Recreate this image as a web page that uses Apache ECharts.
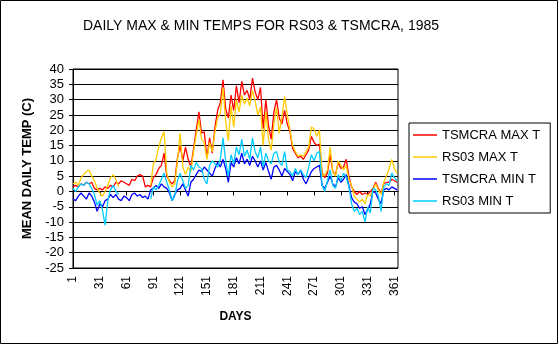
<!DOCTYPE html>
<html><head><meta charset="utf-8">
<script src="https://cdn.jsdelivr.net/npm/echarts@6/dist/echarts.min.js"></script>
<style>html,body{margin:0;padding:0;background:#fff}#c{width:559px;height:345px}</style>
</head><body><div id="c"></div>
<script>
const titleText = 'DAILY MAX & MIN TEMPS FOR RS03 & TSMCRA, 1985';
const seriesNames = ['TSMCRA MAX T', 'RS03 MAX T', 'TSMCRA MIN T', 'RS03 MIN T'];
const dayCount = 365;
const categories = [];
for (let d = 1; d <= dayCount; d++) categories.push(String(d));

const sampleDays = [1,4,7,10,13,16,19,22,25,28,31,34,37,40,43,46,49,52,55,58,61,64,67,70,73,76,79,82,85,88,91,94,97,100,103,106,109,112,115,118,121,124,127,130,133,136,139,142,145,148,151,154,157,160,163,166,169,172,175,178,181,184,187,190,193,196,199,202,205,208,211,214,217,220,223,226,229,232,235,238,241,244,247,250,253,256,259,262,265,268,271,274,277,280,283,286,289,292,295,298,301,304,307,310,313,316,319,322,325,328,331,334,337,340,343,346,349,352,355,358,361,364];

const tsmcraMax = [1.5,2.0,1.5,2.5,2.0,3.0,2.5,3.0,1.0,0.5,1.0,0.5,1.5,1.0,2.0,1.5,3.0,2.5,3.5,3.0,2.5,2.0,4.0,3.5,5.0,5.5,5.0,1.5,2.0,1.5,4.5,5.5,7.5,8.5,12.5,5.0,3.5,2.5,3.5,11.0,15.0,10.0,14.5,10.5,8.0,14.0,20.0,26.0,19.0,19.5,11.0,17.5,12.5,21.0,26.5,29.0,36.5,27.0,24.0,31.5,26.5,34.5,29.0,36.0,31.5,33.0,30.0,37.0,32.5,30.0,34.0,20.5,30.0,21.5,17.0,26.0,30.0,24.0,22.0,26.5,22.0,19.5,14.0,12.5,11.0,11.5,10.5,12.0,13.5,18.0,16.0,15.0,15.5,6.0,4.5,6.0,12.0,6.5,5.5,9.5,7.5,8.0,10.5,5.0,1.5,0.0,-1.0,0.0,-1.0,-0.5,-1.0,0.0,1.0,3.0,1.0,-0.5,2.5,3.0,3.0,4.0,3.5,3.0];

const rs03Max = [2.5,3.0,2.0,4.5,5.5,6.5,7.0,5.0,3.5,1.0,-0.5,-1.5,0.0,2.0,4.5,5.5,4.0,1.5,null,null,null,null,null,null,null,null,null,null,null,2.0,9.0,10.5,14.5,17.5,19.5,6.0,3.0,1.5,2.5,10.0,19.0,8.0,5.5,8.0,6.5,13.0,18.5,23.5,17.0,16.0,10.5,16.0,13.0,19.5,24.0,25.5,34.0,23.0,16.5,28.0,21.0,30.0,26.0,31.5,28.5,30.5,28.0,33.0,29.5,25.0,27.5,15.0,26.0,17.0,13.5,22.0,27.5,19.0,24.5,31.0,25.0,20.0,15.0,13.0,11.5,12.0,11.5,13.0,14.5,21.0,20.5,18.0,20.0,5.0,5.5,7.0,14.5,6.5,5.0,10.0,8.5,7.0,8.5,4.0,2.0,-1.5,-2.5,-3.5,-2.5,-4.0,-1.0,-1.5,0.5,2.5,0.5,-1.0,3.0,5.0,7.5,10.5,7.5,6.0];

const tsmcraMin = [-2.5,-3.0,-1.5,-0.5,-1.5,-2.5,-0.5,-1.5,-3.5,-6.5,-4.0,-5.0,-3.0,-2.5,-1.0,-2.0,-1.0,-2.5,-3.0,-1.5,-2.0,-3.0,-1.0,-0.5,-1.5,-1.0,-2.0,-1.5,-2.5,0.5,1.0,2.0,1.0,2.5,1.5,1.0,-0.5,-3.0,-1.0,0.5,1.0,2.5,0.5,-1.5,3.0,4.0,5.5,7.0,6.5,8.0,7.0,6.0,5.0,7.5,9.5,8.0,10.5,7.5,3.0,9.5,8.0,11.0,9.0,12.5,9.0,10.5,8.5,11.5,10.0,8.0,10.0,7.0,9.5,6.5,4.0,8.0,8.5,7.0,5.0,7.5,6.5,5.5,3.5,6.5,5.5,7.0,4.0,2.5,4.5,6.5,7.5,8.0,8.5,2.0,1.0,3.0,5.0,2.5,1.5,4.5,3.0,4.0,5.5,2.0,-2.0,-3.5,-4.0,-5.5,-5.0,-7.5,-6.0,-4.0,0.0,-0.5,-2.5,-4.0,0.5,1.0,0.5,1.5,1.0,0.5];

const rs03Min = [1.0,0.0,1.5,2.5,2.0,3.0,2.5,1.0,-1.0,-4.5,-3.0,-6.0,-11.0,-3.0,0.5,2.0,0.0,-1.0,null,null,null,null,null,null,null,null,null,null,null,-2.5,1.5,0.5,2.0,4.0,6.0,3.0,0.5,-3.0,-1.5,3.5,6.0,3.5,1.0,2.0,8.5,7.0,9.5,8.0,7.5,4.0,2.5,8.5,10.0,9.0,8.0,10.5,17.5,10.0,5.0,12.0,9.0,14.5,12.0,17.0,11.5,13.5,10.5,17.5,13.0,11.0,14.5,8.0,12.5,10.0,9.0,12.5,13.0,9.5,8.5,13.0,7.0,6.5,5.0,7.5,5.5,7.0,5.5,4.5,8.0,12.0,10.0,12.5,13.0,2.0,0.0,3.5,7.0,2.0,1.0,5.5,3.5,6.0,4.5,1.5,-4.0,-6.5,-5.5,-7.5,-6.5,-10.0,-5.0,-7.0,1.0,0.5,-1.5,-6.5,1.5,2.5,2.0,6.0,4.5,3.5];

const seriesValues = [tsmcraMax, rs03Max, tsmcraMin, rs03Min];
const seriesColors = ['#ff0000', '#ffcc00', '#0000ff', '#00ccff'];

const font = "'Liberation Sans', Arial, sans-serif";
const chart = echarts.init(document.getElementById('c'), null, {renderer: 'canvas'});

const series = seriesNames.map((name, k) => ({
  name: name,
  type: 'line',
  symbol: 'none',
  showSymbol: false,
  connectNulls: false,
  animation: false,
  lineStyle: {color: seriesColors[k], width: 1.3},
  itemStyle: {color: seriesColors[k]},
  data: sampleDays.map((d, i) => [d - 1, seriesValues[k][i] == null ? '-' : seriesValues[k][i]])
}));

chart.setOption({
  animation: false,
  backgroundColor: '#ffffff',
  textStyle: {fontFamily: font, color: '#000'},
  graphic: [
    {type: 'rect', shape: {x: 0.5, y: 0.5, width: 557, height: 343}, style: {fill: null, stroke: '#000', lineWidth: 1}, z: 100},
    {type: 'text', x: 261, y: 19, style: {text: titleText, font: "14px " + font, fill: '#000', textAlign: 'center', textVerticalAlign: 'top'}}
  ],
  grid: {left: 73, top: 69, width: 325, height: 199, show: true, borderColor: '#000', borderWidth: 1, backgroundColor: '#fff'},
  legend: {
    orient: 'vertical', left: 409, top: 123,
    data: seriesNames.map(n => ({name: n, icon: 'rect'})),
    itemWidth: 24, itemHeight: 1.5, itemGap: 8,
    padding: [5, 10, 5, 4],
    borderColor: '#000', borderWidth: 1, backgroundColor: '#fff',
    textStyle: {fontFamily: font, fontSize: 13, lineHeight: 14, color: '#000'}
  },
  xAxis: {
    type: 'category',
    data: categories,
    boundaryGap: false,
    name: 'DAYS', nameLocation: 'middle', nameGap: 43,
    nameTextStyle: {fontFamily: font, fontWeight: 'bold', fontSize: 12, color: '#000'},
    axisLine: {lineStyle: {color: '#000', width: 1}},
    axisTick: {show: true, interval: 29, length: 4, lineStyle: {color: '#000'}},
    axisLabel: {interval: 29, rotate: 90, fontSize: 12, color: '#000', fontFamily: font, margin: 8},
    splitLine: {show: false}
  },
  yAxis: {
    type: 'value', min: -25, max: 40, interval: 5,
    name: 'MEAN DAILY TEMP (C)', nameLocation: 'middle', nameGap: 38,
    nameTextStyle: {fontFamily: font, fontWeight: 'bold', fontSize: 13, color: '#000'},
    axisLine: {show: true, lineStyle: {color: '#000', width: 1}},
    axisTick: {show: true, length: 4, lineStyle: {color: '#000'}},
    axisLabel: {fontSize: 13, color: '#000', fontFamily: font, margin: 9},
    splitLine: {show: true, lineStyle: {color: '#000', width: 1}}
  },
  series: series
});
</script></body></html>
